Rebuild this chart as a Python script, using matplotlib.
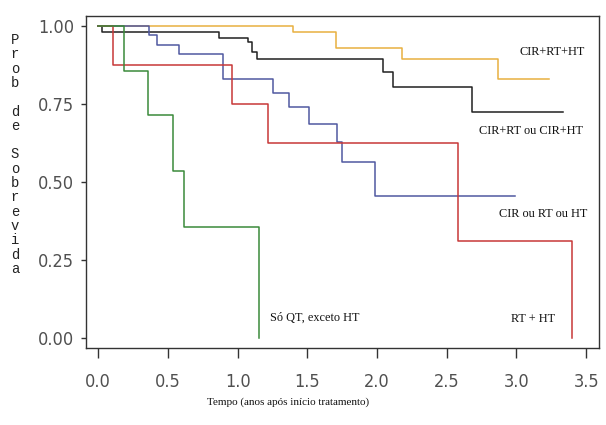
import matplotlib
matplotlib.use("Agg")
import matplotlib.pyplot as plt
from matplotlib import font_manager

# ---- data ----
t_yellow = [0.0, 1.40, 1.705, 2.176, 2.87, 3.23]
s_yellow = [1.0, 0.982, 0.929, 0.893, 0.829, 0.829]

t_black = [0.0, 0.024, 0.868, 1.076, 1.10, 1.136, 2.04, 2.116, 2.68, 3.336]
s_black = [1.0, 0.980, 0.961, 0.950, 0.916, 0.893, 0.854, 0.806, 0.726, 0.726]

t_blue = [0.0, 0.364, 0.423, 0.581, 0.892, 1.255, 1.370, 1.514, 1.715, 1.746, 1.985, 2.99]
s_blue = [1.0, 0.971, 0.939, 0.910, 0.830, 0.786, 0.740, 0.685, 0.630, 0.566, 0.456, 0.456]

t_red = [0.0, 0.103, 0.961, 1.220, 2.583, 3.40]
s_red = [1.0, 0.875, 0.750, 0.625, 0.3125, 0.0]

t_green = [0.0, 0.187, 0.354, 0.538, 0.617, 1.155]
s_green = [1.0, 0.857, 0.714, 0.536, 0.357, 0.0]

x_ticks = [0.0, 0.5, 1.0, 1.5, 2.0, 2.5, 3.0, 3.5]
y_ticks = [0.0, 0.25, 0.50, 0.75, 1.00]
x_ticklabels = ["0.0", "0.5", "1.0", "1.5", "2.0", "2.5", "3.0", "3.5"]
y_ticklabels = ["0.00", "0.25", "0.50", "0.75", "1.00"]

labels = ["CIR+RT+HT", "CIR+RT ou CIR+HT", "CIR ou RT ou HT", "RT + HT", "Só QT, exceto HT"]
label_pos = [(3.491, 0.917), (3.477, 0.664), (3.506, 0.398), (3.276, 0.062), (1.231, 0.065)]
label_ha = ["right", "right", "right", "right", "left"]

colors = ["#E8B040", "#202020", "#5058A0", "#C83838", "#3A8A3A"]

# ---- fonts ----
tick_font = "DejaVu Sans Mono"
tick_stretch = "normal"
for f in font_manager.fontManager.ttflist:
    if "Narrow" in f.name or "Condensed" in f.name:
        tick_font = f.name
        break
    if f.stretch in ("condensed", "semi-condensed", "extra-condensed") and f.name.startswith("DejaVu Sans"):
        tick_font = f.name
        tick_stretch = f.stretch
        break
serif = "Liberation Serif"
mono = "Liberation Mono"

fig = plt.figure(figsize=(6.06, 4.25), dpi=100)
ax = fig.add_axes([86/606, 1-348.3/425, (599-86)/606, (348.3-16)/425])

series = [(t_yellow, s_yellow), (t_black, s_black), (t_blue, s_blue),
          (t_red, s_red), (t_green, s_green)]
for (t, s), c in zip(series, colors):
    ax.step(t, s, where="post", color=c, lw=1.1)

for lab, (x, y), ha in zip(labels, label_pos, label_ha):
    ax.text(x, y, lab, ha=ha, va="center", fontsize=8.8, family=serif, color="#111111")

ax.set_xlim(-0.088, 3.592)
ax.set_ylim(-0.032, 1.032)
ax.set_xticks(x_ticks)
ax.set_xticklabels(x_ticklabels)
ax.set_yticks(y_ticks)
ax.set_yticklabels(y_ticklabels)
for lab in ax.get_xticklabels() + ax.get_yticklabels():
    lab.set_family(tick_font)
    lab.set_stretch(tick_stretch)
    lab.set_fontsize(13)
    lab.set_color("#505050")
ax.tick_params(axis="x", length=7, width=1, pad=11, color="#333333")
ax.tick_params(axis="y", length=3.5, width=1, pad=5, color="#333333")
for sp in ax.spines.values():
    sp.set_color("#333333")
    sp.set_linewidth(1)

fig.text(288.5/606, 1-402/425, "Tempo (anos após início tratamento)", family=serif,
         fontsize=8, ha="center", va="center", color="#111111")

ylabel = "Prob de Sobrevida"
yy = 40
for ch in ylabel:
    if ch != " ":
        fig.text(15/606, 1-yy/425, ch, family=mono, fontsize=10, ha="center", va="center", color="#222222")
    yy += 14.3

fig.savefig("out.png", dpi=100)
